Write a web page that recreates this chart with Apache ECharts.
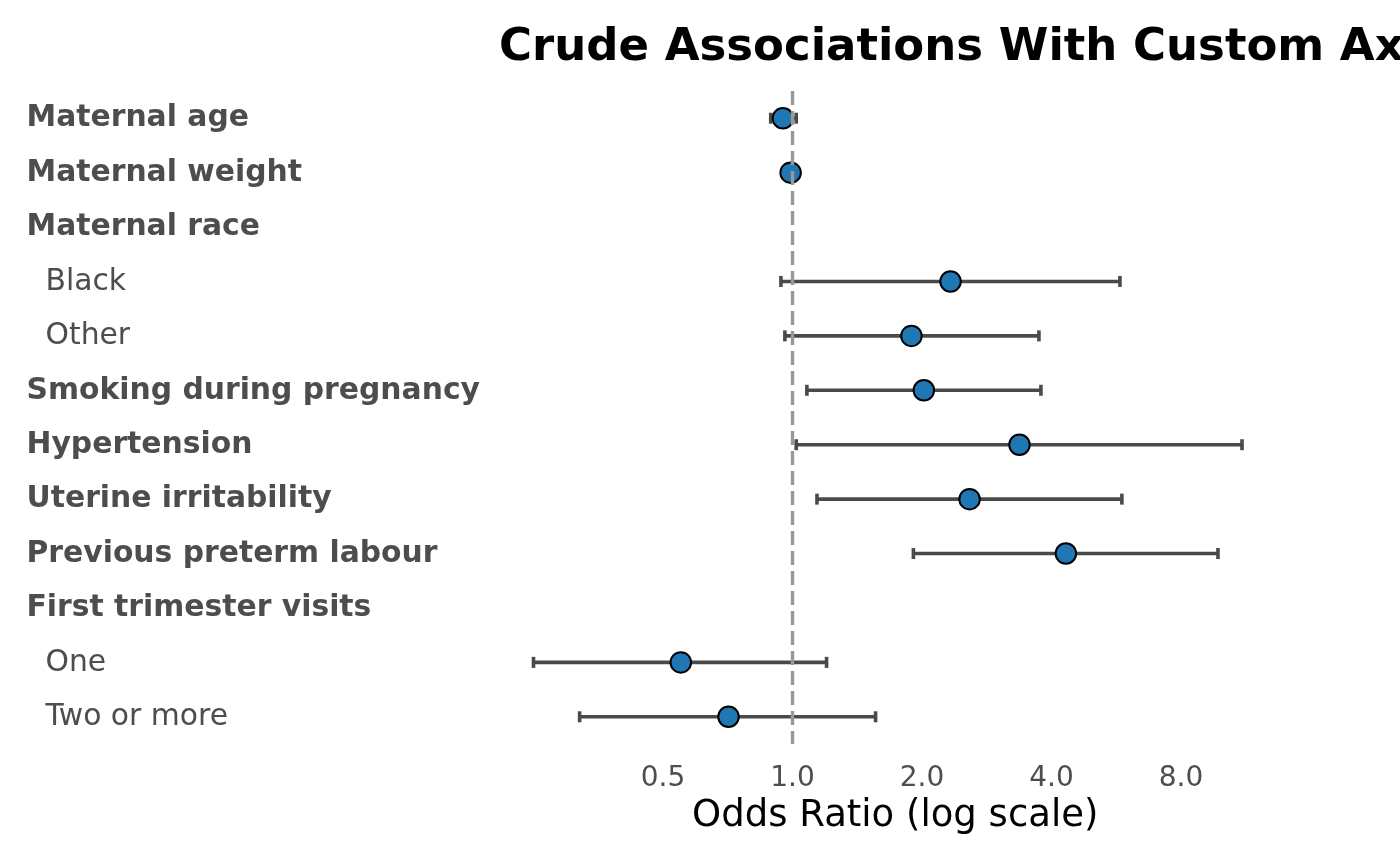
<!DOCTYPE html>
<html>
<head>
    <meta charset="utf-8">
    <title>Crude Associations</title>
    <script src="https://cdn.jsdelivr.net/npm/echarts@6/dist/echarts.min.js"></script>
    <style>
        html, body { margin: 0; padding: 0; background: #ffffff; }
        #chart { width: 1400px; height: 865px; }
    </style>
</head>
<body>
<div id="chart"></div>
<script>
    // rows top to bottom; two leading spaces = sub level
    var labels = ['Maternal age', 'Maternal weight', 'Maternal race', '  Black', '  Other',
        'Smoking during pregnancy', 'Hypertension', 'Uterine irritability',
        'Previous preterm labour', 'First trimester visits', '  One', '  Two or more'];
    var oddsRatio = [0.95, 0.99, null, 2.33, 1.89, 2.02, 3.37, 2.58, 4.32, null, 0.55, 0.71];
    var ciLower = [0.89, 0.97, null, 0.94, 0.96, 1.08, 1.02, 1.14, 1.91, null, 0.25, 0.32];
    var ciUpper = [1.02, 1.00, null, 5.77, 3.74, 3.78, 11.09, 5.83, 9.75, null, 1.20, 1.56];
    var xTicks = [0.5, 1, 2, 4, 8];

    var gridLeft = 404;
    var font = "'DejaVu Sans', sans-serif";

    var barData = [], pointData = [];
    for (var i = 0; i < labels.length; i++) {
        if (oddsRatio[i] == null) continue;
        barData.push([i, ciLower[i], ciUpper[i]]);
        pointData.push([oddsRatio[i], i]);
    }

    var chart = echarts.init(document.getElementById('chart'));

    var option = {
        animation: false,
        backgroundColor: '#ffffff',
        title: {
            text: 'Crude Associations With Custom Axis Labels',
            left: 494,
            top: 21,
            textStyle: { fontFamily: font, fontSize: 45, fontWeight: 'bold', color: '#000000' }
        },
        grid: {
            left: gridLeft,
            right: 89.5,
            top: 91,
            bottom: 121,
            outerBoundsMode: 'none'
        },
        xAxis: {
            type: 'log',
            logBase: 2,
            min: 0.125,
            max: 16,
            interval: 1,
            axisLine: { show: false },
            axisTick: { show: false },
            splitLine: { show: false },
            axisLabel: {
                margin: 21,
                fontFamily: font,
                fontSize: 28,
                color: '#4d4d4d',
                formatter: function (v) {
                    var hit = xTicks.some(function (t) { return Math.abs(t - v) < 1e-6; });
                    return hit ? v.toFixed(1) : '';
                }
            },
            name: 'Odds Ratio (log scale)',
            nameLocation: 'middle',
            nameGap: 54,
            nameTextStyle: {
                fontFamily: font,
                fontSize: 37,
                color: '#000000',
                padding: [0, 0, 0, 76]
            }
        },
        yAxis: {
            type: 'category',
            inverse: true,
            data: labels,
            axisLine: { show: false },
            axisTick: { show: false },
            splitLine: { show: false },
            axisLabel: {
                align: 'left',
                margin: gridLeft - 26.5,
                formatter: function (v) {
                    if (v.indexOf('  ') === 0) {
                        return '{n|' + v.trim() + '}';
                    }
                    return '{b|' + v + '}';
                },
                rich: {
                    b: { fontFamily: font, fontSize: 29.8, fontWeight: 'bold', color: '#4d4d4d', padding: [1, 0, 0, 0] },
                    n: { fontFamily: font, fontSize: 29.8, color: '#4d4d4d', padding: [1, 0, 0, 19] }
                }
            }
        },
        series: [
            {
                // confidence intervals with caps
                type: 'custom',
                z: 2,
                encode: { x: [1, 2], y: 0 },
                data: barData,
                renderItem: function (params, api) {
                    var row = api.value(0);
                    var lo = api.coord([api.value(1), row]);
                    var hi = api.coord([api.value(2), row]);
                    var s = { stroke: '#4a4a4a', lineWidth: 3.6 };
                    return {
                        type: 'group',
                        children: [
                            { type: 'line', shape: { x1: lo[0], y1: lo[1], x2: hi[0], y2: hi[1] }, style: s },
                            { type: 'line', shape: { x1: lo[0], y1: lo[1] - 5.5, x2: lo[0], y2: lo[1] + 5.5 }, style: s },
                            { type: 'line', shape: { x1: hi[0], y1: hi[1] - 5.5, x2: hi[0], y2: hi[1] + 5.5 }, style: s }
                        ]
                    };
                }
            },
            {
                // reference line at OR = 1
                type: 'scatter',
                z: 3,
                data: [],
                markLine: {
                    silent: true,
                    symbol: 'none',
                    label: { show: false },
                    lineStyle: { type: [14, 6], color: '#999999', width: 3.4 },
                    data: [{ xAxis: 1 }]
                }
            },
            {
                type: 'scatter',
                z: 4,
                symbol: 'circle',
                symbolSize: 20.5,
                data: pointData,
                itemStyle: { color: '#1f77b4', borderColor: '#000000', borderWidth: 2, opacity: 1 }
            }
        ]
    };

    chart.setOption(option);
    window.onresize = function () {
        chart.resize();
    };
</script>
</body>
</html>
